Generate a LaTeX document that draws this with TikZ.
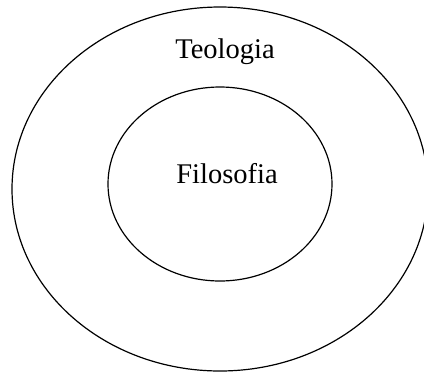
\documentclass[tikz,border=0pt]{standalone}
\usepackage{fontspec}
\setmainfont{Liberation Serif}
\usetikzlibrary{shapes.geometric}
\definecolor{inkblack}{RGB}{0,0,0}
\tikzset{
  ringline/.style={ellipse,draw=inkblack,line width=1.2pt,inner sep=0pt},
  wordfont/.style={font=\fontsize{28.5}{32}\selectfont,anchor=base,inner sep=0pt},
}
\begin{document}
\begin{tikzpicture}[x=1pt,y=-1pt]
        \useasboundingbox (0,0) rectangle (424,376);
        \clip (0,0) rectangle (424,376);
        \node[ringline,minimum width=416pt,minimum height=364pt] (teol) at (220,189) {};
        \node[ringline,minimum width=224pt,minimum height=194pt] (filo) at (220,184) {};
        \node[wordfont] (teoltxt) at (225,58) {Teologia};
        \node[wordfont] (filotxt) at (227,183) {Filosofia};
      \end{tikzpicture}
\end{document}
